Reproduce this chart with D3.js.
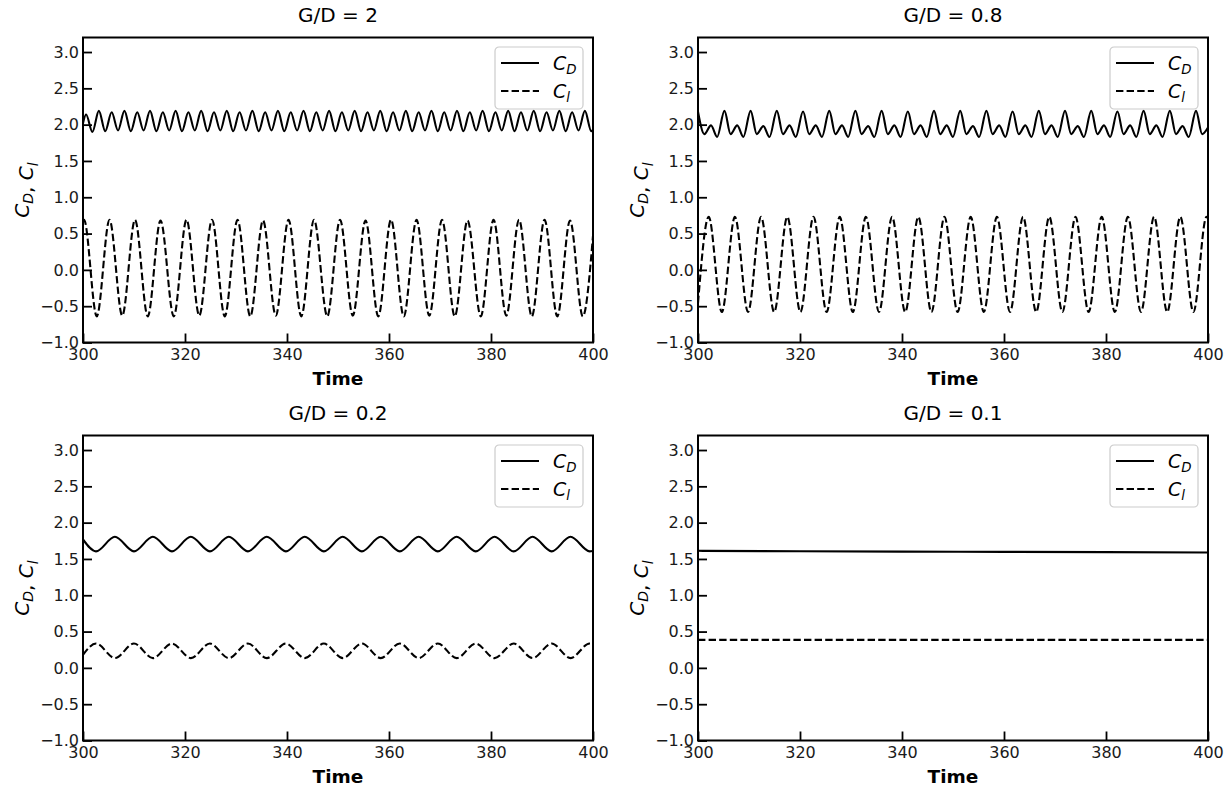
<!DOCTYPE html>
<html>
<head>
<meta charset="utf-8">
<script src="https://cdn.jsdelivr.net/npm/d3@7"></script>
<style>
  body { margin: 0; background: #fff; }
  svg { display: block; font-family: "DejaVu Sans", sans-serif; }
</style>
</head>
<body>
<svg id="fig" width="1228" height="787"></svg>
<script>
// ---------------- data ----------------
const gapRatios = ["G/D = 2", "G/D = 0.8", "G/D = 0.2", "G/D = 0.1"];
const timeTicks = [300, 320, 340, 360, 380, 400];
const coeffTicks = [-1.0, -0.5, 0.0, 0.5, 1.0, 1.5, 2.0, 2.5, 3.0];
const timeDomain = [300, 400];
const coeffDomain = [-1.0, 3.2];

// G/D = 2 : drag coefficient (turning points)
const gd2CdTime = [300.00,
  300.60, 301.85, 303.11, 304.36, 305.62, 306.87, 308.12, 309.38, 310.63, 311.88,
  313.14, 314.39, 315.65, 316.90, 318.16, 319.41, 320.66, 321.92, 323.17, 324.42,
  325.68, 326.93, 328.19, 329.44, 330.70, 331.95, 333.20, 334.46, 335.71, 336.96,
  338.22, 339.47, 340.73, 341.98, 343.24, 344.49, 345.74, 347.00, 348.25, 349.50,
  350.76, 352.01, 353.27, 354.52, 355.78, 357.03, 358.28, 359.54, 360.79, 362.04,
  363.30, 364.55, 365.81, 367.06, 368.32, 369.57, 370.82, 372.08, 373.33, 374.58,
  375.84, 377.09, 378.35, 379.60, 380.86, 382.11, 383.36, 384.62, 385.87, 387.12,
  388.38, 389.63, 390.89, 392.14, 393.40, 394.65, 395.90, 397.16, 398.41, 399.66,
  400.00];
const gd2CdValue = [2.02,
  2.14, 1.90, 2.19, 1.91, 2.17, 1.92, 2.19, 1.91, 2.17, 1.92,
  2.19, 1.91, 2.17, 1.92, 2.19, 1.91, 2.17, 1.92, 2.19, 1.91,
  2.17, 1.92, 2.19, 1.91, 2.17, 1.92, 2.19, 1.91, 2.17, 1.92,
  2.19, 1.91, 2.17, 1.92, 2.19, 1.91, 2.17, 1.92, 2.19, 1.91,
  2.17, 1.92, 2.19, 1.91, 2.17, 1.92, 2.19, 1.91, 2.17, 1.92,
  2.19, 1.91, 2.17, 1.92, 2.19, 1.91, 2.17, 1.92, 2.19, 1.91,
  2.17, 1.92, 2.19, 1.91, 2.17, 1.92, 2.19, 1.91, 2.17, 1.92,
  2.19, 1.91, 2.17, 1.92, 2.19, 1.91, 2.17, 1.92, 2.19, 1.91,
  1.93];

// G/D = 2 : lift coefficient
const gd2ClTime = [300.0,
  300.2, 302.7, 305.2, 307.7, 310.2, 312.7, 315.2, 317.8, 320.3, 322.8,
  325.3, 327.8, 330.3, 332.8, 335.3, 337.8, 340.3, 342.8, 345.3, 347.9,
  350.4, 352.9, 355.4, 357.9, 360.4, 362.9, 365.4, 367.9, 370.4, 372.9,
  375.4, 378.0, 380.5, 383.0, 385.5, 388.0, 390.5, 393.0, 395.5, 398.0,
  400.0];
const gd2ClValue = [0.67,
  0.69, -0.64, 0.69, -0.63, 0.69, -0.64, 0.68, -0.64, 0.69, -0.63,
  0.69, -0.64, 0.69, -0.64, 0.68, -0.63, 0.69, -0.64, 0.69, -0.64,
  0.69, -0.63, 0.68, -0.64, 0.69, -0.64, 0.69, -0.63, 0.69, -0.64,
  0.68, -0.64, 0.69, -0.63, 0.69, -0.64, 0.69, -0.64, 0.68, -0.64,
  0.47];

// G/D = 0.8 : drag coefficient (big peak, trough, small peak, trough)
const gd08CdTime = [300.00,
  301.25, 302.55, 303.75, 305.19,
  306.39, 307.69, 308.89, 310.32,
  311.52, 312.82, 314.02, 315.46,
  316.66, 317.96, 319.16, 320.60,
  321.80, 323.10, 324.30, 325.74,
  326.94, 328.24, 329.44, 330.87,
  332.07, 333.37, 334.57, 336.01,
  337.21, 338.51, 339.71, 341.15,
  342.35, 343.65, 344.85, 346.28,
  347.48, 348.78, 349.98, 351.42,
  352.62, 353.92, 355.12, 356.56,
  357.76, 359.06, 360.26, 361.69,
  362.89, 364.19, 365.39, 366.83,
  368.03, 369.33, 370.53, 371.97,
  373.17, 374.47, 375.67, 377.11,
  378.31, 379.61, 380.81, 382.24,
  383.44, 384.74, 385.94, 387.38,
  388.58, 389.88, 391.08, 392.52,
  393.72, 395.02, 396.22, 397.65,
  398.85, 400.00];
const gd08CdValue = [2.18,
  1.87, 1.99, 1.83, 2.19,
  1.87, 1.99, 1.83, 2.19,
  1.87, 1.98, 1.83, 2.19,
  1.87, 1.99, 1.83, 2.18,
  1.87, 1.99, 1.83, 2.19,
  1.87, 1.99, 1.83, 2.19,
  1.87, 1.98, 1.83, 2.19,
  1.87, 1.99, 1.83, 2.18,
  1.87, 1.99, 1.83, 2.19,
  1.87, 1.99, 1.83, 2.19,
  1.87, 1.98, 1.83, 2.19,
  1.87, 1.99, 1.83, 2.18,
  1.87, 1.99, 1.83, 2.19,
  1.87, 1.99, 1.83, 2.19,
  1.87, 1.98, 1.83, 2.19,
  1.87, 1.99, 1.83, 2.18,
  1.87, 1.99, 1.83, 2.19,
  1.87, 1.99, 1.83, 2.19,
  1.87, 1.98, 1.83, 2.19,
  1.87, 1.96];

// G/D = 0.8 : lift coefficient
const gd08ClTime = [300.00,
  302.10, 304.67, 307.24, 309.81, 312.37, 314.94, 317.51, 320.08, 322.65, 325.22,
  327.79, 330.36, 332.92, 335.49, 338.06, 340.63, 343.20, 345.77, 348.33, 350.90,
  353.47, 356.04, 358.61, 361.18, 363.74, 366.31, 368.88, 371.45, 374.02, 376.59,
  379.16, 381.73, 384.29, 386.86, 389.43, 392.00, 394.57, 397.14, 399.70,
  400.00];
const gd08ClValue = [-0.46,
  0.73, -0.58, 0.73, -0.58, 0.73, -0.58, 0.73, -0.58, 0.73, -0.58,
  0.73, -0.58, 0.73, -0.58, 0.73, -0.58, 0.73, -0.58, 0.73, -0.58,
  0.73, -0.58, 0.73, -0.58, 0.73, -0.58, 0.73, -0.58, 0.73, -0.58,
  0.73, -0.58, 0.73, -0.58, 0.73, -0.58, 0.73, -0.58, 0.73,
  0.72];

// G/D = 0.2 : drag coefficient
const gd02CdTime = [300.00,
  302.55, 306.25, 309.99, 313.70, 317.44, 321.14, 324.88, 328.59, 332.33, 336.03,
  339.78, 343.48, 347.22, 350.92, 354.67, 358.37, 362.11, 365.81, 369.56, 373.26,
  377.00, 380.70, 384.45, 388.15, 391.89, 395.59, 399.34,
  400.00];
const gd02CdValue = [1.77,
  1.605, 1.805, 1.605, 1.805, 1.605, 1.805, 1.605, 1.805, 1.605, 1.805,
  1.605, 1.805, 1.605, 1.805, 1.605, 1.805, 1.605, 1.805, 1.605, 1.805,
  1.605, 1.805, 1.605, 1.805, 1.605, 1.805, 1.605,
  1.61];

// G/D = 0.2 : lift coefficient
const gd02ClTime = [300.00,
  302.55, 306.27, 309.99, 313.71, 317.44, 321.16, 324.88, 328.60, 332.33, 336.05,
  339.78, 343.50, 347.22, 350.94, 354.67, 358.39, 362.11, 365.83, 369.56, 373.28,
  377.00, 380.72, 384.45, 388.17, 391.89, 395.61, 399.34,
  400.00];
const gd02ClValue = [0.18,
  0.335, 0.135, 0.335, 0.135, 0.335, 0.135, 0.335, 0.135, 0.335, 0.135,
  0.335, 0.135, 0.335, 0.135, 0.335, 0.135, 0.335, 0.135, 0.335, 0.135,
  0.335, 0.135, 0.335, 0.135, 0.335, 0.135, 0.335,
  0.33];

// G/D = 0.1 : steady state
const gd01CdTime = [300, 320, 340, 360, 380, 400];
const gd01CdValue = [1.612, 1.606, 1.601, 1.598, 1.594, 1.589];
const gd01ClTime = [300, 400];
const gd01ClValue = [0.385, 0.385];

// ---------------- layout ----------------
const W = 510, H = 305;
const panels = [
  { title: gapRatios[0], x: 83,  y: 37.5,  cd: [gd2CdTime, gd2CdValue],   cl: [gd2ClTime, gd2ClValue] },
  { title: gapRatios[1], x: 698, y: 37.5,  cd: [gd08CdTime, gd08CdValue], cl: [gd08ClTime, gd08ClValue] },
  { title: gapRatios[2], x: 83,  y: 435.5, cd: [gd02CdTime, gd02CdValue], cl: [gd02ClTime, gd02ClValue] },
  { title: gapRatios[3], x: 698, y: 435.5, cd: [gd01CdTime, gd01CdValue], cl: [gd01ClTime, gd01ClValue] }
];

const svg = d3.select("#fig");
const x = d3.scaleLinear().domain(timeDomain).range([0, W]);
const y = d3.scaleLinear().domain(coeffDomain).range([H, 0]);

const line = d3.line()
  .x(d => x(d[0]))
  .y(d => y(d[1]))
  .curve(d3.curveMonotoneX);

const zip = (t, v) => t.map((ti, i) => [ti, v[i]]);

// writes C with an italic subscript into a text element
function coeffLabel(sel, sub, size) {
  sel.append("tspan").attr("font-style", "italic").text("C");
  sel.append("tspan").attr("font-style", "italic")
    .attr("font-size", size * 0.7).attr("dy", size * 0.22).text(sub);
  sel.append("tspan").attr("dy", -size * 0.22).text("");
}

panels.forEach((p, i) => {
  const g = svg.append("g").attr("transform", `translate(${p.x},${p.y})`);

  g.append("clipPath").attr("id", "clip" + i)
    .append("rect").attr("width", W).attr("height", H);

  // curves
  const plot = g.append("g").attr("clip-path", `url(#clip${i})`);
  plot.append("path")
    .datum(zip(p.cd[0], p.cd[1]))
    .attr("d", line)
    .attr("fill", "none").attr("stroke", "#000")
    .attr("stroke-width", 2.1).attr("stroke-linejoin", "round");
  plot.append("path")
    .datum(zip(p.cl[0], p.cl[1]))
    .attr("d", line)
    .attr("fill", "none").attr("stroke", "#000")
    .attr("stroke-width", 2.1).attr("stroke-dasharray", "7.4,3.2");

  // axes with inward ticks
  const xAxis = d3.axisBottom(x).tickValues(timeTicks).tickFormat(d3.format("d"))
    .tickSize(-9).tickPadding(6);
  const yAxis = d3.axisLeft(y).tickValues(coeffTicks).tickFormat(d3.format(".1f"))
    .tickSize(-9).tickPadding(4);

  const gx = g.append("g").attr("transform", `translate(0,${H})`).call(xAxis);
  const gy = g.append("g").call(yAxis);
  [gx, gy].forEach(a => {
    a.select(".domain").remove();
    a.selectAll(".tick line").attr("stroke", "#000").attr("stroke-width", 1.8);
    a.selectAll(".tick text").attr("fill", "#1a1a1a")
      .attr("font-family", "DejaVu Sans").attr("font-size", 16);
  });

  // frame
  g.append("rect").attr("width", W).attr("height", H)
    .attr("fill", "none").attr("stroke", "#000").attr("stroke-width", 2);

  // title
  g.append("text").attr("x", W / 2).attr("y", -15.5)
    .attr("text-anchor", "middle").attr("font-size", 20).attr("fill", "#000")
    .text(p.title);

  // x label
  g.append("text").attr("x", W / 2).attr("y", H + 42.5)
    .attr("text-anchor", "middle").attr("font-size", 18.5).attr("font-weight", "bold")
    .attr("fill", "#000").text("Time");

  // y label
  const yl = g.append("text")
    .attr("transform", `translate(${-54},${H / 2}) rotate(-90)`)
    .attr("text-anchor", "middle").attr("font-size", 20).attr("fill", "#000");
  coeffLabel(yl, "D", 20);
  yl.append("tspan").text(", ");
  coeffLabel(yl, "l", 20);

  // legend
  const lg = g.append("g").attr("transform", `translate(${W - 10 - 88},9.5)`);
  lg.append("rect").attr("width", 88).attr("height", 62).attr("rx", 4)
    .attr("fill", "#fff").attr("fill-opacity", 0.8)
    .attr("stroke", "#cccccc").attr("stroke-width", 1.2);
  const entries = [
    { sub: "D", dash: null, yy: 16 },
    { sub: "l", dash: "7.4,3.2", yy: 44 }
  ];
  entries.forEach(e => {
    const ln = lg.append("line").attr("x1", 6).attr("x2", 44)
      .attr("y1", e.yy).attr("y2", e.yy)
      .attr("stroke", "#000").attr("stroke-width", 2.1);
    if (e.dash) ln.attr("stroke-dasharray", e.dash);
    const t = lg.append("text").attr("x", 58).attr("y", e.yy + 6.5)
      .attr("font-size", 19).attr("fill", "#000");
    coeffLabel(t, e.sub, 19);
  });
});
</script>
</body>
</html>
